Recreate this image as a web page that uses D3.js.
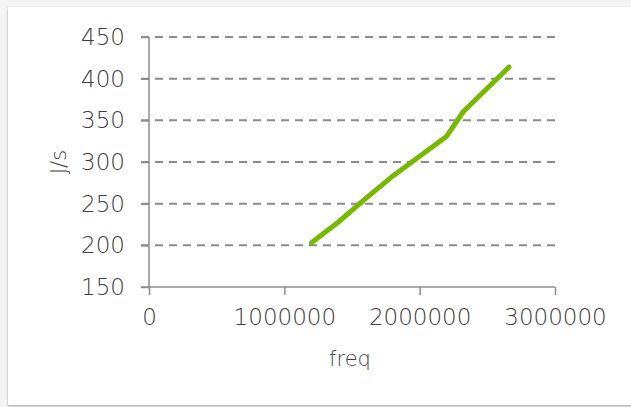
<!DOCTYPE html>
<html>
<head>
<meta charset="utf-8">
<script src="https://cdn.jsdelivr.net/npm/d3@7/dist/d3.min.js"></script>
<style>
  html, body { margin: 0; padding: 0; background: #f4f4f4; }
  svg { display: block; }
  text { font-family: "DejaVu Sans", sans-serif; font-weight: 200; fill: #404040; }
</style>
</head>
<body>
<svg id="chart" width="631" height="407"></svg>
<script>
// Power draw (J/s) at each CPU frequency setting
const freq = [1200000, 1400000, 1600000, 1800000, 2000000, 2200000, 2320000, 2660000];
const power = [203, 228, 256, 283, 307, 331, 360, 414];
const xTicks = [0, 1000000, 2000000, 3000000];
const yTicks = [150, 200, 250, 300, 350, 400, 450];

const svg = d3.select("#chart");
const W = 631, H = 407;

// card background with soft shadow
const defs = svg.append("defs");
const f = defs.append("filter").attr("id", "shadow").attr("x", "-5%").attr("y", "-5%").attr("width", "110%").attr("height", "110%");
f.append("feDropShadow").attr("dx", 0).attr("dy", 1).attr("stdDeviation", 1).attr("flood-color", "#000").attr("flood-opacity", 0.35);
svg.append("rect").attr("x", 0).attr("y", 0).attr("width", W).attr("height", H).attr("fill", "#f4f4f4");
svg.append("rect").attr("x", 8).attr("y", 7).attr("width", W).attr("height", 398)
  .attr("fill", "#fff").attr("filter", "url(#shadow)");

const x = d3.scaleLinear().domain([0, 3000000]).range([149, 555]);
const y = d3.scaleLinear().domain([150, 450]).range([287, 37]);

// horizontal gridlines
svg.append("g").selectAll("line").data(yTicks.filter(v => v > 150)).join("line")
  .attr("x1", 141).attr("x2", 555)
  .attr("y1", d => y(d)).attr("y2", d => y(d))
  .attr("stroke", "#8c8c8c").attr("stroke-width", 2).attr("stroke-dasharray", "8,6");

// y axis
const yAxis = svg.append("g").attr("transform", `translate(${x(0)},0)`)
  .call(d3.axisLeft(y).tickValues(yTicks).tickSize(8).tickPadding(16).tickFormat(d3.format("d")));
yAxis.select(".domain").attr("stroke", "#8c8c8c").attr("stroke-width", 1.5).attr("d", `M0,${y(150)}V${y(450)}`);
yAxis.selectAll(".tick line").attr("stroke", "#8c8c8c").attr("stroke-width", 1.5);
yAxis.selectAll("text").attr("font-size", 23).attr("font-family", "DejaVu Sans").attr("fill", "#404040");

// x axis
const xAxis = svg.append("g").attr("transform", `translate(0,${y(150)})`)
  .call(d3.axisBottom(x).tickValues(xTicks).tickSize(8).tickPadding(14).tickFormat(d3.format("d")));
xAxis.select(".domain").attr("stroke", "#8c8c8c").attr("stroke-width", 1.5).attr("d", `M141,0H${x(3000000)}`);
xAxis.selectAll(".tick line").attr("stroke", "#8c8c8c").attr("stroke-width", 1.5);
xAxis.selectAll("text").attr("font-size", 23).attr("font-family", "DejaVu Sans").attr("fill", "#404040");

// data line
const line = d3.line().x((d, i) => x(freq[i])).y(d => y(d));
svg.append("path").datum(power)
  .attr("d", line)
  .attr("fill", "none").attr("stroke", "#76b900").attr("stroke-width", 5)
  .attr("stroke-linecap", "round").attr("stroke-linejoin", "round");

// axis titles
svg.append("text").attr("x", 350).attr("y", 366).attr("text-anchor", "middle")
  .attr("font-size", 21).text("freq");
svg.append("text").attr("transform", `translate(66,${y(300)}) rotate(-90)`)
  .attr("text-anchor", "middle").attr("font-size", 21).text("J/s");
</script>
</body>
</html>
